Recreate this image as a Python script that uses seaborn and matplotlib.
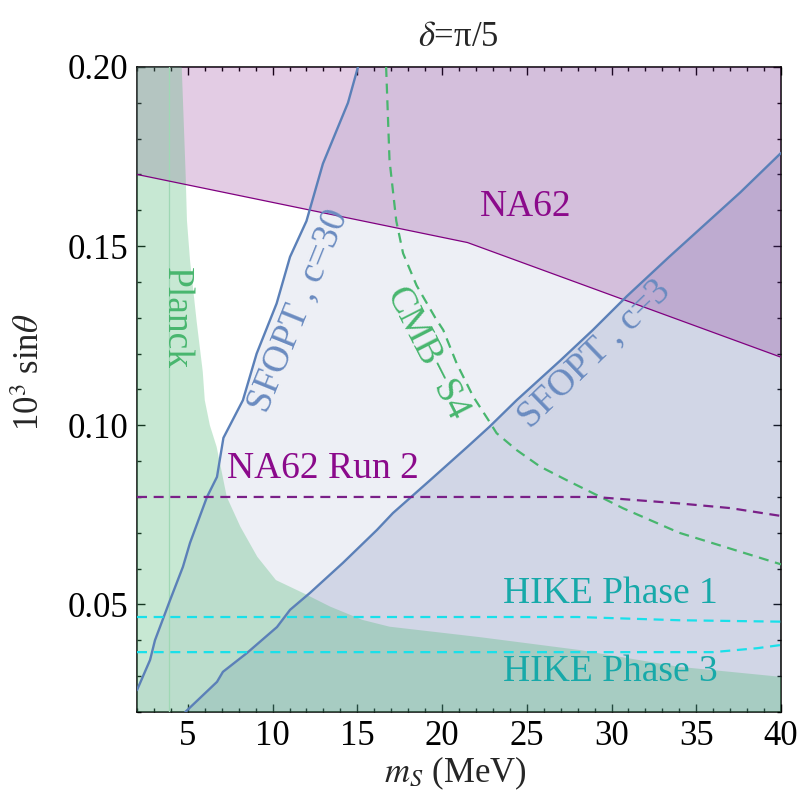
import numpy as np
import pandas as pd
import matplotlib
matplotlib.use("Agg")
import matplotlib.pyplot as plt
import seaborn as sns

# axis ranges
X_MIN, X_MAX = 2, 40
Y_MIN, Y_MAX = 0.02, 0.20

# Planck excluded region boundary
planck_x = [4.64, 4.87, 4.95, 5.13, 5.52, 5.88, 6.0, 6.3, 6.7, 7.3, 8.1, 9.1, 10.2, 11.8, 13.4, 15.3, 16.9, 22.2, 28.1, 34.0, 40.0]
planck_y = [0.200, 0.170, 0.157, 0.146, 0.129, 0.115, 0.107, 0.100, 0.094, 0.080, 0.0717, 0.0633, 0.0568, 0.0532, 0.0494, 0.0457, 0.0438, 0.0409, 0.0373, 0.0326, 0.0298]
planck_edge_x = 3.9

# SFOPT boundaries
c30_x = [2.0, 2.77, 3.06, 3.95, 4.71, 5.13, 6.13, 6.72, 7.1, 8.25, 9.06, 10.24, 11.03, 12.0, 12.97, 14.45, 15.04]
c30_y = [0.0261, 0.0345, 0.040, 0.0512, 0.0605, 0.0672, 0.080, 0.0856, 0.0965, 0.107, 0.120, 0.134, 0.147, 0.157, 0.173, 0.190, 0.200]
c3_x = [4.85, 6.72, 7.07, 8.5, 10.26, 11.03, 12.2, 14.15, 16.16, 17.1, 19.3, 21.5, 22.8, 24.4, 26.96, 28.9, 30.9, 33.4, 37.6, 40.0]
c3_y = [0.020, 0.0284, 0.0312, 0.0365, 0.0437, 0.0485, 0.0532, 0.0616, 0.0708, 0.0755, 0.0847, 0.094, 0.0996, 0.107, 0.118, 0.1266, 0.136, 0.147, 0.165, 0.176]

# NA62 bound
na62_x = [2.0, 21.5, 40.0]
na62_y = [0.170, 0.151, 0.119]

# projections
cmb_x = [16.7, 16.9, 17.3, 17.7, 18.5, 19.6, 20.07, 20.86, 21.84, 22.73, 23.22, 24.4, 25.78, 27.35, 29.1, 30.7, 34.0, 40.0]
cmb_y = [0.200, 0.174, 0.157, 0.148, 0.139, 0.130, 0.1266, 0.1173, 0.108, 0.1015, 0.0978, 0.0931, 0.0885, 0.0847, 0.0806, 0.0768, 0.070, 0.0612]
run2_x = [2.0, 29.0, 34.0, 37.0, 40.0]
run2_y = [0.0800, 0.0800, 0.0782, 0.0769, 0.0747]
hike1_x = [2.0, 28.0, 34.0, 40.0]
hike1_y = [0.0465, 0.0465, 0.0456, 0.0452]
hike3_x = [2.0, 36.0, 38.6, 40.0]
hike3_y = [0.0367, 0.0367, 0.0378, 0.0387]

GREEN = "#48b66e"
BLUE = "#5b80b8"
PURPLE = "#800080"
CYAN = "#19e0ea"
TEAL = "#17a9a9"
DASH = (0, (4.5, 3))

sns.set_theme(style="ticks")
plt.rcParams["font.family"] = ["Liberation Serif", "DejaVu Serif"]
plt.rcParams["mathtext.fontset"] = "stix"

fig = plt.figure(figsize=(8.03, 7.98), dpi=100)
ax = fig.add_axes([0.1706, 0.1078, 0.802, 0.8083])

# filled regions: c=30, c=3, NA62, then Planck on top
sfopt_col = (85/255, 105/255, 165/255)
ax.fill(np.r_[c30_x, X_MAX, X_MAX, X_MIN], np.r_[c30_y, Y_MAX, Y_MIN, Y_MIN],
        color=sfopt_col, alpha=0.1, lw=0, zorder=1)
ax.fill(np.r_[c3_x, X_MAX], np.r_[c3_y, Y_MIN], color=sfopt_col, alpha=0.18, lw=0, zorder=2)
ax.fill(np.r_[na62_x, X_MAX, X_MIN], np.r_[na62_y, Y_MAX, Y_MAX],
        color=(115/255, 0, 120/255), alpha=0.2, lw=0, zorder=3)
ax.fill(np.r_[X_MIN, planck_x, X_MAX, X_MIN], np.r_[Y_MAX, planck_y, Y_MIN, Y_MIN],
        color=(72/255, 182/255, 112/255), alpha=0.3, lw=0, zorder=4)
ax.axvline(planck_edge_x, color="#9fd8b4", lw=0.9, zorder=4.5)

def curve(xs, ys, **kw):
    df = pd.DataFrame({"x": xs, "y": ys})
    sns.lineplot(data=df, x="x", y="y", sort=False, estimator=None, ax=ax, **kw)

curve(na62_x, na62_y, color=PURPLE, lw=0.9, zorder=5)
curve(c30_x, c30_y, color=BLUE, lw=1.7, zorder=6)
curve(c3_x, c3_y, color=BLUE, lw=1.7, zorder=6)
curve(cmb_x, cmb_y, color=GREEN, lw=1.6, linestyle=DASH, zorder=6)
curve(run2_x, run2_y, color="#7a2088", lw=1.6, linestyle=DASH, zorder=6)
curve(hike1_x, hike1_y, color=CYAN, lw=1.6, linestyle=DASH, zorder=6)
curve(hike3_x, hike3_y, color=CYAN, lw=1.6, linestyle=DASH, zorder=6)

# labels on the plot
fs = 27
ax.text(4.30, 0.130, "Planck", color=GREEN, fontsize=fs, rotation=-90,
        ha="center", va="center", rotation_mode="anchor", zorder=7)
ax.text(11.5, 0.132, "SFOPT , c=30", color="#6a8bc0", fontsize=fs, rotation=68,
        ha="center", va="center", rotation_mode="anchor", zorder=7)
ax.text(19.1, 0.120, "CMB\u2212S4", color=GREEN, fontsize=fs, rotation=-63,
        ha="center", va="center", rotation_mode="anchor", zorder=7)
ax.text(29.0, 0.120, "SFOPT , c=3", color="#6a8bc0", fontsize=fs, rotation=44,
        ha="center", va="center", rotation_mode="anchor", zorder=7)
ax.text(24.95, 0.161, "NA62", color="#8b0a8b", fontsize=fs, ha="center", va="center", zorder=7)
ax.text(12.97, 0.0878, "NA62 Run 2", color="#8b0a8b", fontsize=fs, ha="center", va="center", zorder=7)
ax.text(29.96, 0.0529, "HIKE Phase 1", color=TEAL, fontsize=fs, ha="center", va="center", zorder=7)
ax.text(29.96, 0.0312, "HIKE Phase 3", color=TEAL, fontsize=fs, ha="center", va="center", zorder=7)

ax.set_xlim(X_MIN, X_MAX)
ax.set_ylim(Y_MIN, Y_MAX)
ax.set_xticks([5, 10, 15, 20, 25, 30, 35, 40])
ax.set_yticks([0.05, 0.10, 0.15, 0.20])
ax.set_yticklabels(["0.05", "0.10", "0.15", "0.20"])
ax.set_xticks(np.arange(2, 41, 1), minor=True)
ax.set_yticks(np.arange(0.02, 0.2001, 0.01), minor=True)
ax.tick_params(which="both", direction="in", top=True, right=True, colors="black",
               labelsize=25, width=1.0)
ax.tick_params(which="major", length=6, pad=6)
ax.tick_params(which="minor", length=3)
for s in ax.spines.values():
    s.set_color("black")
    s.set_linewidth(1.1)

ax.set_xlabel("$m_S$ (MeV)", fontsize=25)
ax.set_ylabel("10$^3$ sin$\\theta$", fontsize=25)
ax.xaxis.label.set_va("center")
ax.yaxis.label.set_va("center")
ax.xaxis.set_label_coords(0.494, -0.0946)
ax.yaxis.set_label_coords(-0.166, 0.527)
fig.text(458 / 803, 1 - 37 / 798, "$\\delta$=π/5", fontsize=25, ha="center", va="center")

fig.savefig("out.png", dpi=100)
